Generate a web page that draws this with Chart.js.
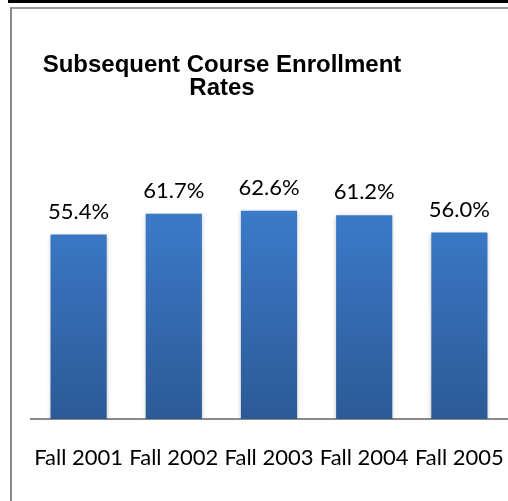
<!DOCTYPE html>
<html>
<head>
<meta charset="utf-8">
<script src="https://cdn.jsdelivr.net/npm/chart.js@4.4.1/dist/chart.umd.min.js"></script>
<style>
  html, body { margin: 0; padding: 0; background: #fff; }
  #wrap { position: relative; width: 508px; height: 501px; overflow: hidden; }
  #wrap canvas { position: absolute; left: 0; top: 0; }
  .line { position: absolute; }
</style>
</head>
<body>
<div id="wrap">
  <div class="line" style="left:8px;top:0;width:500px;height:3px;background:#000;"></div>
  <div class="line" style="left:10px;top:7px;right:0;height:2px;background:#9a9a9a;"></div>
  <div class="line" style="left:10px;top:7px;width:2px;bottom:0;background:#8a8a8a;"></div>
  <canvas id="enrollChart" width="508" height="501"></canvas>
</div>
<script>
// chart data
const titleLines = ["Subsequent Course Enrollment", "Rates"];
const terms = ["Fall 2001", "Fall 2002", "Fall 2003", "Fall 2004", "Fall 2005"];
const enrollRates = [55.4, 61.7, 62.6, 61.2, 56.0];

// title drawn at a fixed center, like the original
const titlePlugin = {
  id: "titleText",
  afterDraw(chart) {
    const ctx = chart.ctx;
    ctx.save();
    ctx.font = "bold 24px 'Liberation Sans', Arial, sans-serif";
    ctx.fillStyle = "#000";
    ctx.textAlign = "center";
    ctx.textBaseline = "alphabetic";
    titleLines.forEach((line, i) => ctx.fillText(line, 222, 72 + i * 23));
    ctx.restore();
  }
};

// soft shadow on bars + value labels above
const barExtras = {
  id: "barExtras",
  beforeDatasetsDraw(chart) {
    const ctx = chart.ctx;
    ctx.save();
    ctx.shadowColor = "rgba(0,0,0,0.25)";
    ctx.shadowBlur = 4;
    ctx.shadowOffsetX = 0;
    ctx.shadowOffsetY = 1;
  },
  afterDatasetsDraw(chart) {
    const ctx = chart.ctx;
    ctx.restore();
    ctx.save();
    ctx.font = "22px Lato, sans-serif";
    ctx.fillStyle = "#000";
    ctx.textAlign = "center";
    ctx.textBaseline = "alphabetic";
    chart.getDatasetMeta(0).data.forEach((bar, i) => {
      ctx.fillText(enrollRates[i].toFixed(1) + "%", bar.x, bar.y - 16);
    });
    ctx.restore();
  }
};

function barGradient(context) {
  const area = context.chart.chartArea;
  if (!area) return "#3470b8";
  const g = context.chart.ctx.createLinearGradient(0, 205, 0, area.bottom);
  g.addColorStop(0, "#3c7bcb");
  g.addColorStop(1, "#2c5a96");
  return g;
}

new Chart(document.getElementById("enrollChart"), {
  type: "bar",
  data: {
    labels: terms,
    datasets: [{
      data: enrollRates,
      backgroundColor: barGradient,
      borderWidth: 0,
      categoryPercentage: 1,
      barPercentage: 0.59
    }]
  },
  options: {
    responsive: false,
    animation: false,
    layout: { padding: { left: 31, right: 1, top: 186, bottom: 30 } },
    plugins: { legend: { display: false }, tooltip: { enabled: false } },
    scales: {
      x: {
        grid: { display: false, drawTicks: false },
        border: { display: true, color: "#8a8a8a", width: 2 },
        ticks: { color: "#000", padding: 26, font: { family: "Lato", size: 22 }, maxRotation: 0, autoSkip: false },
        afterFit(scale) {
          // keep the plot area fixed: no extra label padding
          scale.paddingLeft = 0;
          scale.paddingRight = 0;
          scale.height = 52;
        }
      },
      y: { display: false, min: 0, max: 70 }
    }
  },
  plugins: [titlePlugin, barExtras]
});
</script>
</body>
</html>
